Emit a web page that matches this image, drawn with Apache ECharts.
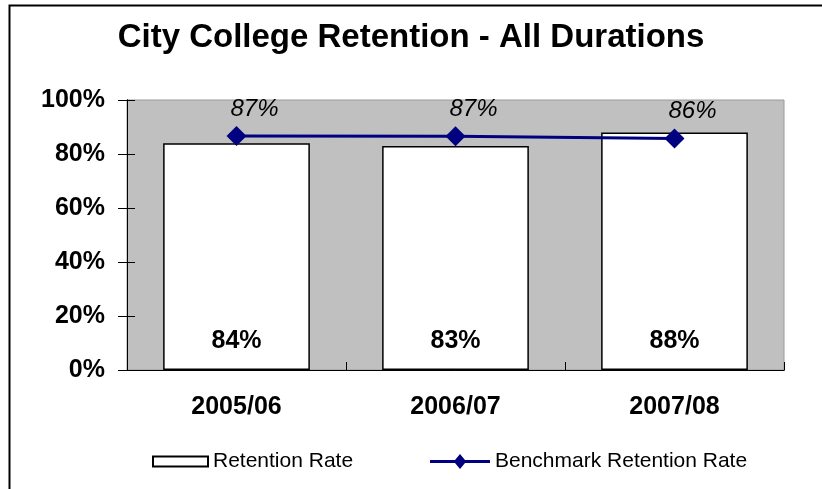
<!DOCTYPE html>
<html>
<head>
<meta charset="utf-8">
<script src="https://cdn.jsdelivr.net/npm/echarts@6/dist/echarts.min.js"></script>
<style>
  html, body { margin: 0; padding: 0; background: #fff; }
  #wrap { width: 822px; height: 489px; }
</style>
</head>
<body>
<div id="wrap"></div>
<script>
var years = ['2005/06', '2006/07', '2007/08'];
var retention = [0.84, 0.83, 0.88];
var benchmark = [0.867, 0.866, 0.857];
var yTicks = [0, 0.2, 0.4, 0.6, 0.8, 1.0];

function pct(v) { return Math.round(v * 100) + '%'; }

var font = 'Arial, "Liberation Sans", sans-serif';
var diamondLine = 'path://M0,6 L25,6 L30,0 L35,6 L60,6 L60,9 L35,9 L30,15 L25,9 L0,9 Z';

var option = {
    animation: false,
    backgroundColor: '#fff',
    title: {
        text: 'City College Retention - All Durations',
        left: 'center',
        top: 16,
        textStyle: { fontFamily: font, fontSize: 33, fontWeight: 'bold', color: '#000' }
    },
    graphic: [{
        type: 'rect',
        left: 7, top: 3,
        shape: { width: 900, height: 600 },
        style: { fill: 'none', stroke: '#000', lineWidth: 2 },
        silent: true
    }],
    legend: [{
        left: 147,
        top: 446,
        itemWidth: 55,
        itemHeight: 10,
        textStyle: { fontFamily: font, fontSize: 21, color: '#000' },
        data: [{ name: 'Retention Rate', icon: 'rect' }]
    }, {
        left: 425,
        top: 446,
        itemWidth: 60,
        itemHeight: 15,
        textStyle: { fontFamily: font, fontSize: 21, color: '#000' },
        data: [{ name: 'Benchmark Retention Rate', icon: diamondLine }]
    }],
    grid: {
        left: 127,
        top: 100,
        right: 38,
        bottom: 119,
        show: true,
        backgroundColor: '#c0c0c0',
        borderColor: '#9a9a9a',
        borderWidth: 1,
        outerBoundsMode: 'none'
    },
    xAxis: [{
        type: 'category',
        data: years,
        axisLine: { lineStyle: { color: '#000', width: 1 } },
        axisTick: { length: 8, lineStyle: { color: '#000' } },
        axisLabel: { margin: 25, fontFamily: font, fontSize: 25, fontWeight: 'bold', color: '#000' }
    }, {
        type: 'category',
        data: years,
        position: 'bottom',
        axisLine: { show: true, lineStyle: { color: '#000', width: 1 } },
        axisTick: { show: true, inside: true, length: 8, lineStyle: { color: '#000' } },
        axisLabel: { show: false }
    }],
    yAxis: [{
        type: 'value',
        min: yTicks[0],
        max: yTicks[yTicks.length - 1],
        interval: 0.2,
        splitLine: { show: false },
        axisLine: { show: true, lineStyle: { color: '#000', width: 1 } },
        axisTick: { show: true, length: 9, lineStyle: { color: '#000' } },
        axisLabel: { margin: 22, fontFamily: font, fontSize: 25, fontWeight: 'bold', color: '#000', formatter: pct }
    }, {
        type: 'value',
        min: yTicks[0],
        max: yTicks[yTicks.length - 1],
        interval: 0.2,
        position: 'left',
        splitLine: { show: false },
        axisLine: { show: true, lineStyle: { color: '#000', width: 1 } },
        axisTick: { show: true, inside: true, length: 8, lineStyle: { color: '#000' } },
        axisLabel: { show: false }
    }],
    series: [
        {
            name: 'Retention Rate',
            type: 'bar',
            data: retention,
            barCategoryGap: '33%',
            itemStyle: { color: '#fff', borderColor: '#000', borderWidth: 1.5 },
            label: {
                show: true,
                position: 'insideBottom',
                distance: 16,
                formatter: function (p) { return pct(p.value); },
                fontFamily: font, fontSize: 25, fontWeight: 'bold', color: '#000'
            }
        },
        {
            name: 'Benchmark Retention Rate',
            type: 'line',
            data: benchmark,
            symbol: 'diamond',
            symbolSize: 20,
            lineStyle: { color: '#000080', width: 3 },
            itemStyle: { color: '#000080' },
            label: {
                show: true,
                position: 'top',
                distance: 5,
                offset: [18, 0],
                formatter: function (p) { return pct(p.value); },
                fontFamily: font, fontSize: 24, fontStyle: 'italic', color: '#000'
            }
        }
    ]
};

var myChart = echarts.init(document.getElementById('wrap'));
myChart.setOption(option);
</script>
</body>
</html>
